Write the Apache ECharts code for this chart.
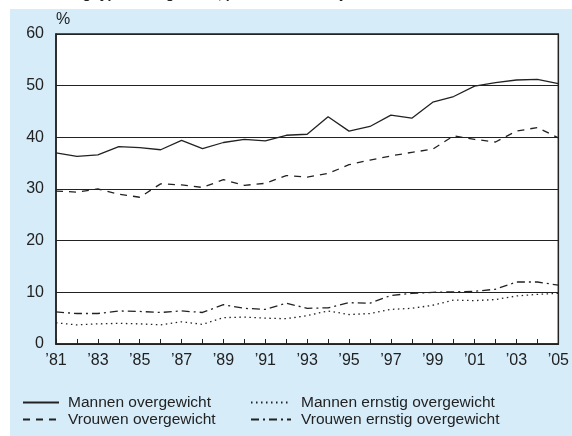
<!DOCTYPE html>
<html>
<head>
<meta charset="utf-8">
<script src="https://cdn.jsdelivr.net/npm/echarts@6/dist/echarts.min.js"></script>
<style>
  html, body { margin: 0; padding: 0; background: #fff; }
  #chart { width: 572px; height: 436px; }
</style>
</head>
<body>
<div id="chart"></div>
<script>
// jaren 1981-2005, labels every other year
const years = ["’81","’82","’83","’84","’85","’86","’87","’88","’89","’90","’91","’92","’93","’94","’95","’96","’97","’98","’99","’00","’01","’02","’03","’04","’05"];
const mannenOvergewicht = [37.0, 36.3, 36.6, 38.2, 38.0, 37.6, 39.4, 37.8, 39.0, 39.6, 39.3, 40.4, 40.6, 44.0, 41.2, 42.1, 44.3, 43.7, 46.8, 47.9, 49.9, 50.6, 51.1, 51.2, 50.4];
const vrouwenOvergewicht = [29.6, 29.4, 30.0, 29.0, 28.4, 31.0, 30.8, 30.3, 31.8, 30.7, 31.1, 32.6, 32.3, 33.0, 34.7, 35.6, 36.4, 37.1, 37.7, 40.3, 39.6, 39.1, 41.2, 41.9, 39.9];
const mannenErnstig = [4.1, 3.7, 3.9, 4.0, 3.9, 3.7, 4.3, 3.8, 5.1, 5.2, 5.0, 4.9, 5.5, 6.4, 5.7, 5.9, 6.7, 6.9, 7.5, 8.5, 8.4, 8.6, 9.3, 9.6, 9.8];
const vrouwenErnstig = [6.2, 5.9, 5.9, 6.4, 6.3, 6.1, 6.4, 6.1, 7.6, 6.9, 6.7, 7.9, 6.9, 7.0, 8.0, 7.9, 9.4, 9.8, 10.0, 10.1, 10.2, 10.6, 12.0, 12.0, 11.4];

const FONT = "'Liberation Sans', Arial, sans-serif";
const INK = "#222";

const chart = echarts.init(document.getElementById("chart"));

function lineSeries(name, data, type) {
  return {
    name, data,
    type: "line",
    symbol: "none",
    smooth: false,
    lineStyle: { color: INK, width: 1.3, type },
    itemStyle: { color: INK },
  };
}

function legendBlock(left, width, names, textGap) {
  return {
    left, top: 394, orient: "vertical", padding: 0, itemGap: 0,
    itemWidth: width, itemHeight: 14,
    itemStyle: { opacity: 0 },
    textStyle: { fontSize: 15.5, lineHeight: 17, color: INK, fontFamily: FONT, padding: [0, 0, 0, textGap] },
    data: names,
  };
}

chart.setOption({
  animation: false,
  textStyle: { fontFamily: FONT },
  graphic: [
    { type: "rect", z: -10, shape: { x: 10, y: 9, width: 562, height: 427 }, style: { fill: "#d6ecf9" } },
    // title sits mostly above the crop, only its lowest pixels show
    { type: "text", left: 4, top: -12.5, style: { text: "Ontwikkeling typen overgewicht, personen van 20 jaar", fontFamily: FONT, fontWeight: "bold", fontSize: 14, fill: INK } },
  ],
  grid: { left: 56, right: 9, top: 34, bottom: 92, show: true, backgroundColor: "#fff", borderColor: INK, borderWidth: 1.5 },
  legend: [
    legendBlock(22, 36, ["Mannen overgewicht", "Vrouwen overgewicht"], 4),
    legendBlock(250, 40, ["Mannen ernstig overgewicht", "Vrouwen ernstig overgewicht"], 5),
  ],
  xAxis: {
    type: "category",
    data: years,
    boundaryGap: false,
    axisLine: { lineStyle: { color: INK, width: 1.5 } },
    axisTick: { inside: true, length: 5, interval: 0, lineStyle: { color: INK } },
    axisLabel: { interval: 1, fontSize: 16, color: INK, margin: 9, fontFamily: FONT },
    splitLine: { show: false },
  },
  yAxis: {
    type: "value",
    min: 0, max: 60, interval: 10,
    name: "%",
    nameLocation: "end",
    nameGap: 6,
    nameTextStyle: { fontSize: 16, color: INK, align: "left", fontFamily: FONT },
    axisLine: { show: true, lineStyle: { color: INK, width: 1.5 } },
    axisTick: { show: false },
    axisLabel: { fontSize: 16, color: INK, margin: 12, fontFamily: FONT },
    splitLine: { lineStyle: { color: INK, width: 1 } },
  },
  series: [
    lineSeries("Mannen overgewicht", mannenOvergewicht, "solid"),
    lineSeries("Vrouwen overgewicht", vrouwenOvergewicht, [7, 6]),
    lineSeries("Mannen ernstig overgewicht", mannenErnstig, [1.5, 3.5]),
    lineSeries("Vrouwen ernstig overgewicht", vrouwenErnstig, [8, 4, 2, 4]),
  ],
});
</script>
</body>
</html>
